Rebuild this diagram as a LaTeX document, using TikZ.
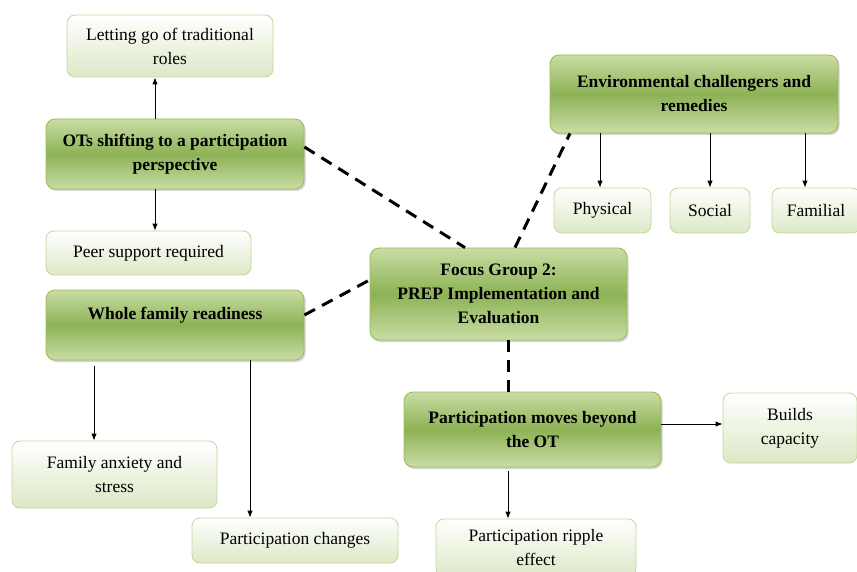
\documentclass[tikz,border=0pt]{standalone}
\usepackage{fontspec}
\setmainfont{Liberation Serif}
\usetikzlibrary{shadows, arrows.meta}
\definecolor{leafgreen}{HTML}{8DB255}
\definecolor{leaflight}{HTML}{C9DDA5}
\definecolor{leafedge}{HTML}{9BBB59}
\definecolor{paleedge}{HTML}{C3D69B}
\definecolor{palefill}{HTML}{DCE8C6}
\tikzset{
  themebox/.style = {draw=leafedge, line width=0.8pt, rounded corners=9pt,
    top color=leaflight, bottom color=leaflight, middle color=leafgreen,
    font=\fontsize{17.5}{24}\selectfont\bfseries, align=center,
    drop shadow={shadow xshift=1.5pt, shadow yshift=-2pt, opacity=0.35}},
  subbox/.style = {draw=paleedge, line width=0.8pt, rounded corners=8pt,
    top color=white, bottom color=palefill,
    font=\fontsize{17.5}{24}\selectfont, align=center},
  link/.style = {line width=3pt, dash pattern=on 12pt off 8pt},
  branch/.style = {-{Latex[length=7pt, width=5.5pt]}, line width=0.9pt}
}
\begin{document}
\begin{tikzpicture}[x=1pt, y=-1pt]
\useasboundingbox (0,0) rectangle (857,572);

\node[subbox, minimum width=206pt, minimum height=62pt] (lettingGo) at (170,46) {Letting go of traditional\\roles};
\node[themebox, minimum width=258pt, minimum height=70pt] (otsShift) at (175,154) {OTs shifting to a participation\\perspective};
\node[subbox, minimum width=205pt, minimum height=44pt] (peerSupport) at (148.5,253) {Peer support required};
\node[themebox, minimum width=258pt, minimum height=70pt] (wholeFamily) at (175,325) {Whole family readiness\\\mbox{}};
\node[subbox, minimum width=205pt, minimum height=67pt] (familyAnxiety) at (114.5,474.5) {Family anxiety and\\stress};
\node[subbox, minimum width=206pt, minimum height=45pt] (partChanges) at (295,540.5) {Participation changes};

\node[themebox, minimum width=257pt, minimum height=92pt] (focusGroup) at (498.5,294) {Focus Group 2:\\PREP Implementation and\\Evaluation};

\node[themebox, minimum width=288pt, minimum height=78pt] (envChallenge) at (694,94) {Environmental challengers and\\remedies};
\node[subbox, minimum width=97pt, minimum height=45pt] (physical) at (602.5,210.5) {Physical};
\node[subbox, minimum width=80pt, minimum height=45pt] (social) at (710,210.5) {Social};
\node[subbox, minimum width=88pt, minimum height=45pt] (familial) at (816,210.5) {Familial};

\node[themebox, minimum width=257pt, minimum height=75pt] (movesBeyond) at (532.5,429.5) {Participation moves beyond\\the OT};
\node[subbox, minimum width=134pt, minimum height=70pt] (buildsCap) at (790,428) {Builds\\capacity};
\node[subbox, minimum width=200pt, minimum height=58pt] (rippleEffect) at (536,548) {Participation ripple\\effect};

% dashed links to the focus group
\draw[link] (otsShift.east |- 0,147) -- (focusGroup.north -| 465,0);
\draw[link] (wholeFamily.east |- 0,315) -- (focusGroup.west |- 0,280);
\draw[link] (focusGroup.north -| 515,0) -- (envChallenge.south -| 570,0);
\draw[link] (focusGroup.south -| 508,0) -- (movesBeyond.north -| 508,0);

% branches
\draw[branch] (otsShift.north -| 155,0) -- (lettingGo.south -| 155,0);
\draw[branch] (otsShift.south -| 155,0) -- (peerSupport.north -| 155,0);
\draw[branch] (envChallenge.south -| 600,0) -- (physical.north -| 600,0);
\draw[branch] (envChallenge.south -| 710,0) -- (social.north -| 710,0);
\draw[branch] (envChallenge.south -| 805,0) -- (familial.north -| 805,0);
\draw[branch] ([yshift=-6pt]wholeFamily.south -| 94,0) -- (familyAnxiety.north -| 94,0);
\draw[branch] (wholeFamily.south -| 250,0) -- (partChanges.north -| 250,0);
\draw[branch] (movesBeyond.east |- 0,424) -- (buildsCap.west |- 0,424);
\draw[branch] ([yshift=-4pt]movesBeyond.south -| 508,0) -- (rippleEffect.north -| 508,0);

\end{tikzpicture}
\end{document}
